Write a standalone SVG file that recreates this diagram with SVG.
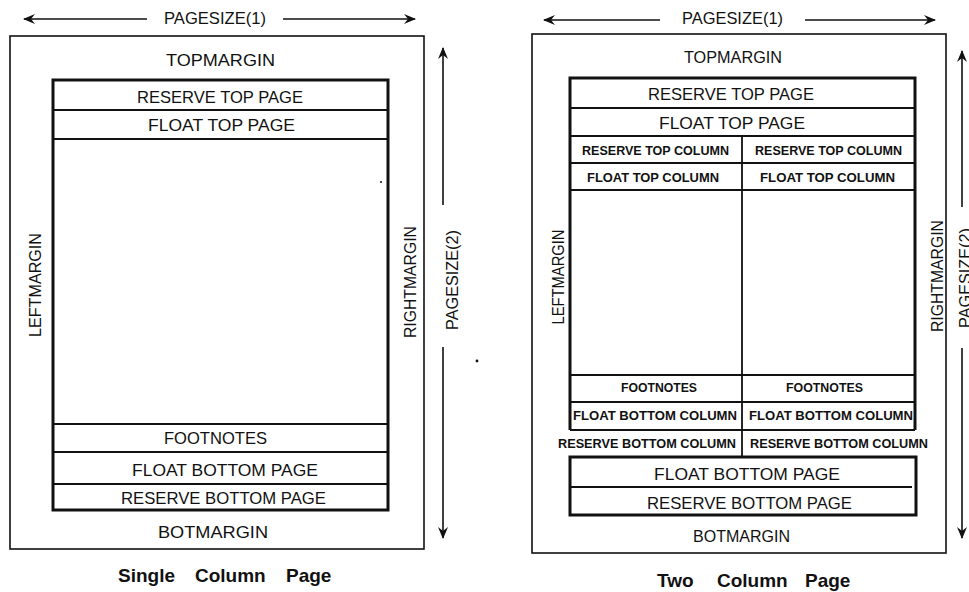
<svg xmlns="http://www.w3.org/2000/svg" width="969" height="592" viewBox="0 0 969 592">
<style>
  .bg { fill: #ffffff; }
  .outer { fill: none; stroke: #111; stroke-width: 1.6; }
  .inner { fill: none; stroke: #111; stroke-width: 3; }
  .row { fill: none; stroke: #111; stroke-width: 2; }
  .div { fill: none; stroke: #111; stroke-width: 1.8; }
  .dim { fill: none; stroke: #111; stroke-width: 1.6; }
  .t { font-family: "Liberation Sans", Arial, Helvetica, sans-serif; font-size: 16.5px; fill: #111; text-anchor: middle; }
  .c { font-family: "Liberation Sans", Arial, Helvetica, sans-serif; font-size: 12.5px; font-weight: bold; fill: #111; text-anchor: middle; }
  .cap { font-family: "Liberation Sans", Arial, Helvetica, sans-serif; font-size: 19px; font-weight: bold; fill: #111; text-anchor: start; }
  .dot { fill: #111; }
</style>
<defs>
  <marker id="arr" viewBox="0 0 12 10" refX="11" refY="5" markerWidth="12" markerHeight="10" markerUnits="userSpaceOnUse" orient="auto-start-reverse">
    <path d="M0,0 L12,5 L0,10 L4,5 Z" fill="#111"/>
  </marker>
</defs>
<rect class="bg" x="0" y="0" width="969" height="592"/>

<!-- ================= SINGLE COLUMN PAGE ================= -->
<g id="single-page">
  <rect class="outer" x="10" y="36" width="414" height="513"/>
  <text class="t" x="220.5" y="66" textLength="109" lengthAdjust="spacingAndGlyphs">TOPMARGIN</text>
  <text class="t" x="213" y="537.5" textLength="110" lengthAdjust="spacingAndGlyphs">BOTMARGIN</text>
  <text class="t" transform="translate(41,285) rotate(-90)" x="0" y="0" textLength="104" lengthAdjust="spacingAndGlyphs">LEFTMARGIN</text>
  <text class="t" transform="translate(416,282) rotate(-90)" x="0" y="0" textLength="112" lengthAdjust="spacingAndGlyphs">RIGHTMARGIN</text>
</g>
<g id="single-body">
  <rect class="inner" x="53" y="80" width="335" height="430"/>
</g>
<g id="single-reserve-top-page">
  <line class="row" x1="53" y1="110" x2="388" y2="110"/>
  <text class="t" x="220" y="102.5" textLength="166" lengthAdjust="spacingAndGlyphs">RESERVE TOP PAGE</text>
</g>
<g id="single-float-top-page">
  <line class="row" x1="53" y1="139" x2="388" y2="139"/>
  <text class="t" x="221.5" y="131" textLength="147" lengthAdjust="spacingAndGlyphs">FLOAT TOP PAGE</text>
</g>
<g id="single-footnotes">
  <line class="row" x1="53" y1="424" x2="388" y2="424"/>
  <text class="t" x="215.5" y="444" textLength="103" lengthAdjust="spacingAndGlyphs">FOOTNOTES</text>
</g>
<g id="single-float-bottom-page">
  <line class="row" x1="53" y1="452" x2="388" y2="452"/>
  <text class="t" x="225" y="475.5" textLength="186" lengthAdjust="spacingAndGlyphs">FLOAT BOTTOM PAGE</text>
</g>
<g id="single-reserve-bottom-page">
  <line class="row" x1="53" y1="484" x2="388" y2="484"/>
  <text class="t" x="223.5" y="504" textLength="205" lengthAdjust="spacingAndGlyphs">RESERVE BOTTOM PAGE</text>
</g>
<g id="single-caption">
  <text class="cap" y="582"><tspan x="118">Single</tspan><tspan> </tspan><tspan x="195">Column</tspan><tspan> </tspan><tspan x="286">Page</tspan></text>
</g>
<g id="single-dims">
  <text class="t" x="215" y="23.5" textLength="102" lengthAdjust="spacingAndGlyphs">PAGESIZE(1)</text>
  <text class="t" transform="translate(457.5,280) rotate(-90)" x="0" y="0" textLength="100" lengthAdjust="spacingAndGlyphs">PAGESIZE(2)</text>
</g>
<circle class="dot" cx="381" cy="182" r="1"/>
<circle class="dot" cx="477" cy="361" r="1.4"/>

<!-- ================= TWO COLUMN PAGE ================= -->
<g id="two-page">
  <rect class="outer" x="532" y="34" width="414" height="519"/>
  <text class="t" x="733" y="63" textLength="98" lengthAdjust="spacingAndGlyphs">TOPMARGIN</text>
  <text class="t" x="741.5" y="542" textLength="97" lengthAdjust="spacingAndGlyphs">BOTMARGIN</text>
  <text class="t" transform="translate(564,277) rotate(-90)" x="0" y="0" textLength="95" lengthAdjust="spacingAndGlyphs">LEFTMARGIN</text>
  <text class="t" transform="translate(943,276) rotate(-90)" x="0" y="0" textLength="112" lengthAdjust="spacingAndGlyphs">RIGHTMARGIN</text>
</g>
<g id="two-body">
  <path class="inner" d="M570,430 L570,78 L915,78 L915,430"/>
  <line class="row" x1="570" y1="430" x2="915" y2="430"/>
  <line class="div" x1="742" y1="136" x2="742" y2="457"/>
</g>
<g id="two-reserve-top-page">
  <line class="row" x1="570" y1="108" x2="915" y2="108"/>
  <text class="t" x="731" y="100" textLength="166" lengthAdjust="spacingAndGlyphs">RESERVE TOP PAGE</text>
</g>
<g id="two-float-top-page">
  <line class="row" x1="570" y1="136" x2="915" y2="136"/>
  <text class="t" x="732" y="129" textLength="146" lengthAdjust="spacingAndGlyphs">FLOAT TOP PAGE</text>
</g>
<g id="two-reserve-top-column">
  <line class="row" x1="570" y1="163" x2="915" y2="163"/>
  <text class="c" x="655.5" y="155" textLength="147" lengthAdjust="spacingAndGlyphs">RESERVE TOP COLUMN</text>
  <text class="c" x="828.5" y="155" textLength="147" lengthAdjust="spacingAndGlyphs">RESERVE TOP COLUMN</text>
</g>
<g id="two-float-top-column">
  <line class="row" x1="570" y1="190" x2="915" y2="190"/>
  <text class="c" x="653" y="182" textLength="132" lengthAdjust="spacingAndGlyphs">FLOAT TOP COLUMN</text>
  <text class="c" x="827.5" y="182" textLength="135" lengthAdjust="spacingAndGlyphs">FLOAT TOP COLUMN</text>
</g>
<g id="two-footnotes">
  <line class="row" x1="570" y1="375" x2="915" y2="375"/>
  <text class="c" x="659" y="392" textLength="76" lengthAdjust="spacingAndGlyphs">FOOTNOTES</text>
  <text class="c" x="824.5" y="392" textLength="77" lengthAdjust="spacingAndGlyphs">FOOTNOTES</text>
</g>
<g id="two-float-bottom-column">
  <line class="row" x1="570" y1="402" x2="915" y2="402"/>
  <text class="c" x="655" y="420" textLength="164" lengthAdjust="spacingAndGlyphs">FLOAT BOTTOM COLUMN</text>
  <text class="c" x="831" y="420" textLength="164" lengthAdjust="spacingAndGlyphs">FLOAT BOTTOM COLUMN</text>
</g>
<g id="two-reserve-bottom-column">
  <text class="c" x="647" y="448" textLength="178" lengthAdjust="spacingAndGlyphs">RESERVE BOTTOM COLUMN</text>
  <text class="c" x="839" y="448" textLength="178" lengthAdjust="spacingAndGlyphs">RESERVE BOTTOM COLUMN</text>
</g>
<g id="two-float-bottom-page">
  <path class="inner" d="M570,457 L916,457 L916,515 L570,515 Z"/>
  <text class="t" x="747" y="480" textLength="186" lengthAdjust="spacingAndGlyphs">FLOAT BOTTOM PAGE</text>
</g>
<g id="two-reserve-bottom-page">
  <line class="row" x1="570" y1="487" x2="912" y2="487"/>
  <text class="t" x="749.5" y="509" textLength="205" lengthAdjust="spacingAndGlyphs">RESERVE BOTTOM PAGE</text>
</g>
<g id="two-caption">
  <text class="cap" y="587"><tspan x="657">Two</tspan><tspan> </tspan><tspan x="717">Column</tspan><tspan> </tspan><tspan x="805">Page</tspan></text>
</g>
<g id="two-dims">
  <text class="t" x="732.5" y="23.5" textLength="101" lengthAdjust="spacingAndGlyphs">PAGESIZE(1)</text>
  <text class="t" transform="translate(971,278) rotate(-90)" x="0" y="0" textLength="100" lengthAdjust="spacingAndGlyphs">PAGESIZE(2)</text>
</g>

<!-- ================= CONNECTORS (dimension arrows) ================= -->
<g id="connectors">
  <line class="dim" x1="147" y1="19" x2="24" y2="19" marker-end="url(#arr)"/>
  <line class="dim" x1="283" y1="19" x2="415" y2="19" marker-end="url(#arr)"/>
  <line class="dim" x1="443" y1="205" x2="443" y2="48" marker-end="url(#arr)"/>
  <line class="dim" x1="443" y1="347" x2="443" y2="538" marker-end="url(#arr)"/>
  <line class="dim" x1="660" y1="20" x2="544" y2="20" marker-end="url(#arr)"/>
  <line class="dim" x1="805" y1="20" x2="935" y2="20" marker-end="url(#arr)"/>
  <line class="dim" x1="962" y1="207" x2="962" y2="51" marker-end="url(#arr)"/>
  <line class="dim" x1="962" y1="348" x2="962" y2="538" marker-end="url(#arr)"/>
</g>
</svg>
